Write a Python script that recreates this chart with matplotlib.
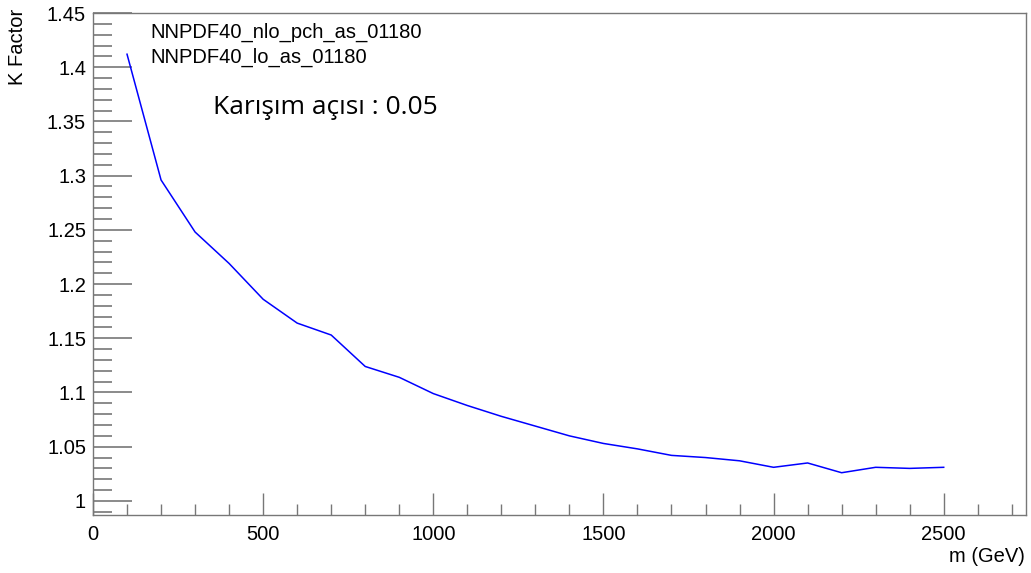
import matplotlib.pyplot as plt
from matplotlib.ticker import MultipleLocator

# mass points and K factor
masses = [100, 200, 300, 400, 500, 600, 700, 800, 900, 1000,
          1100, 1200, 1300, 1400, 1500, 1600, 1700, 1800, 1900, 2000,
          2100, 2200, 2300, 2400, 2500]
k_factor = [1.412, 1.296, 1.248, 1.219, 1.186, 1.164, 1.153, 1.124, 1.114, 1.099,
            1.088, 1.078, 1.069, 1.060, 1.053, 1.048, 1.042, 1.040, 1.037, 1.031,
            1.035, 1.026, 1.031, 1.030, 1.031]
pdf_names = ['NNPDF40_nlo_pch_as_01180', 'NNPDF40_lo_as_01180']

plt.rcParams['font.family'] = ['Liberation Sans', 'DejaVu Sans']

fig = plt.figure(figsize=(10.31, 5.73), dpi=100)
ax = fig.add_axes([0.0902, 0.1012, 0.9050, 0.8761])

ax.plot(masses, k_factor, color='#0000ff', lw=1.1)

ax.set_xlim(0, 2742)
ax.set_ylim(0.987, 1.45)

ax.xaxis.set_major_locator(MultipleLocator(500))
ax.xaxis.set_minor_locator(MultipleLocator(100))
ax.yaxis.set_major_locator(MultipleLocator(0.05))
ax.yaxis.set_minor_locator(MultipleLocator(0.01))
ax.yaxis.set_major_formatter(plt.FuncFormatter(lambda v, p: ('%.2f' % v).rstrip('0').rstrip('.')))

for s in ax.spines.values():
    s.set_color('#777777')
    s.set_linewidth(1.0)
ax.tick_params(which='both', direction='in', colors='#777777', labelcolor='black',
               labelsize=14.5, top=False, right=False)
ax.tick_params(axis='y', which='major', length=28, width=1.2, pad=5)
ax.tick_params(axis='y', which='minor', length=14, width=1.2)
ax.tick_params(axis='x', which='major', length=16, width=1.0, pad=7)
ax.tick_params(axis='x', which='minor', length=8, width=1.0)

fig.text(0.0165, 0.985, 'K Factor', rotation=90, ha='center', va='top', fontsize=14.5)
fig.text(0.994, 0.012, 'm (GeV)', ha='right', va='bottom', fontsize=14.5)

fig.text(0.146, 0.943, pdf_names[0], ha='left', va='center', fontsize=14.5)
fig.text(0.146, 0.899, pdf_names[1], ha='left', va='center', fontsize=14.5)
fig.text(0.207, 0.812, 'Karışım açısı : 0.05', ha='left', va='center',
         fontsize=19, family=['Open Sans', 'DejaVu Sans'])

fig.savefig('out.png', dpi=100)
